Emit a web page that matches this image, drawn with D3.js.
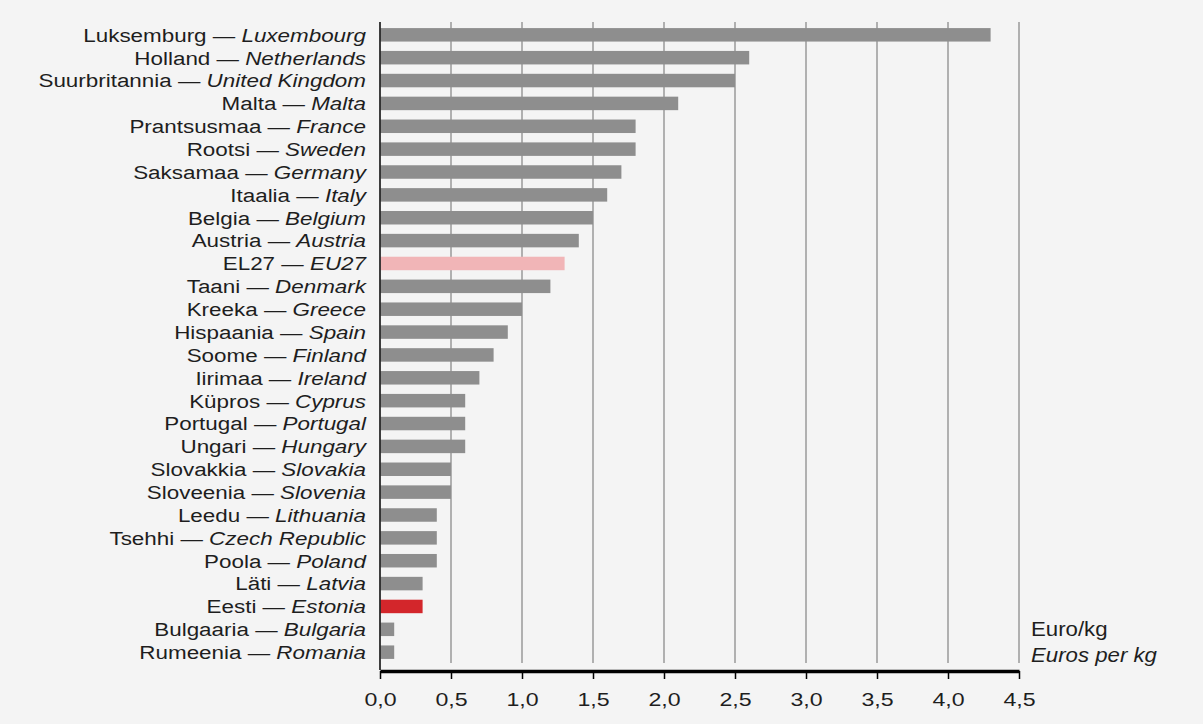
<!DOCTYPE html>
<html><head><meta charset="utf-8">
<script src="https://cdn.jsdelivr.net/npm/d3@7"></script>
<style>
html,body{margin:0;padding:0;background:#f4f4f4;}
svg{display:block;}
text{font-family:"Liberation Sans",Arial,sans-serif;fill:#1e1e1e;}
</style></head>
<body>
<svg id="c" width="1203" height="724"></svg>
<script>
const namesEt = ["Luksemburg","Holland","Suurbritannia","Malta","Prantsusmaa","Rootsi","Saksamaa","Itaalia","Belgia","Austria","EL27","Taani","Kreeka","Hispaania","Soome","Iirimaa","Küpros","Portugal","Ungari","Slovakkia","Sloveenia","Leedu","Tsehhi","Poola","Läti","Eesti","Bulgaaria","Rumeenia"];
const namesEn = ["Luxembourg","Netherlands","United Kingdom","Malta","France","Sweden","Germany","Italy","Belgium","Austria","EU27","Denmark","Greece","Spain","Finland","Ireland","Cyprus","Portugal","Hungary","Slovakia","Slovenia","Lithuania","Czech Republic","Poland","Latvia","Estonia","Bulgaria","Romania"];
const values = [4.3,2.6,2.5,2.1,1.8,1.8,1.7,1.6,1.5,1.4,1.3,1.2,1.0,0.9,0.8,0.7,0.6,0.6,0.6,0.5,0.5,0.4,0.4,0.4,0.3,0.3,0.1,0.1];
const tickValues = [0,0.5,1,1.5,2,2.5,3,3.5,4,4.5];
const tickLabels = ["0,0","0,5","1,0","1,5","2,0","2,5","3,0","3,5","4,0","4,5"];
const unitLabels = ["Euro/kg","Euros per kg"];

const svg = d3.select("#c");
const x = d3.scaleLinear().domain([0,4.5]).range([380,1019]);
const y = d3.scaleBand().domain(d3.range(values.length)).range([23.5,663.5]).paddingInner(0.41).paddingOuter(0.2);

// gridlines
svg.append("g").selectAll("line").data(tickValues.slice(1)).join("line")
  .attr("x1",d=>x(d)).attr("x2",d=>x(d)).attr("y1",22).attr("y2",663)
  .attr("stroke","#9a9a9a").attr("stroke-width",1.5);

function color(i){
  if(namesEn[i]==="EU27") return "#f1b5b7";
  if(namesEn[i]==="Estonia") return "#d3262b";
  return "#8e8e8e";
}
svg.append("g").selectAll("rect").data(values).join("rect")
  .attr("x",x(0)).attr("y",(d,i)=>y(i)).attr("width",d=>x(d)-x(0)).attr("height",y.bandwidth())
  .attr("fill",(d,i)=>color(i));

// zero line
svg.append("line").attr("x1",x(0)).attr("x2",x(0)).attr("y1",22).attr("y2",670)
  .attr("stroke","#2a2a2a").attr("stroke-width",1.8);

// labels
const lab = svg.append("g").selectAll("text").data(values).join("text")
  .attr("transform",(d,i)=>`translate(366,${y(i)+y.bandwidth()/2}) scale(1.18,1)`)
  .attr("dy","0.36em")
  .attr("text-anchor","end").attr("font-size",19);
lab.append("tspan").text((d,i)=>namesEt[i]+" — ");
lab.append("tspan").attr("font-style","italic").text((d,i)=>namesEn[i]);

// axis
const ax = svg.append("g").attr("transform","translate(0,671)")
  .call(d3.axisBottom(x).tickValues(tickValues).tickFormat((d,i)=>tickLabels[i]).tickSize(8).tickPadding(14).tickSizeOuter(0));
ax.select(".domain").attr("stroke","#000").attr("stroke-width",3.5);
ax.selectAll(".tick line").attr("stroke","#000").attr("stroke-width",1.5);
ax.selectAll(".tick text").attr("font-size",19).attr("fill","#1e1e1e")
  .attr("font-family","Liberation Sans, Arial, sans-serif")
  .attr("transform","scale(1.22,1)");

svg.append("text").attr("transform","translate(1031,636) scale(1.14,1)").attr("font-size",19.5).text(unitLabels[0]);
svg.append("text").attr("transform","translate(1031,662) scale(1.14,1)").attr("font-size",19.5).attr("font-style","italic").text(unitLabels[1]);
</script>
</body></html>
